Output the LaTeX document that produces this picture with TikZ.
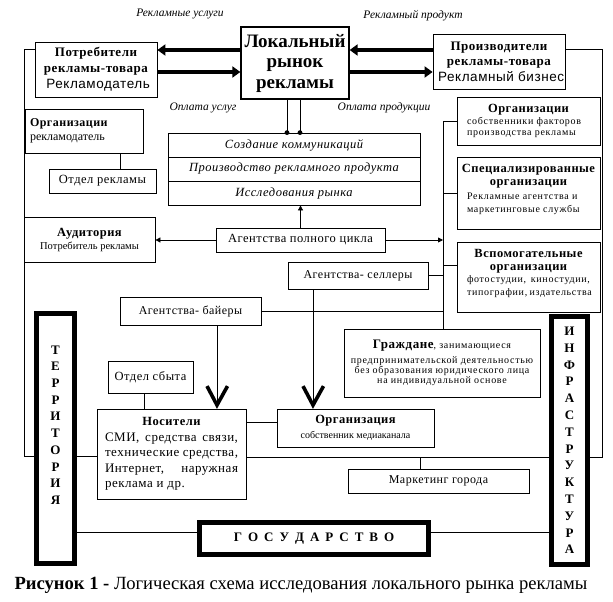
\documentclass[tikz,border=0pt]{standalone}
\usepackage{fontspec}
\setmainfont{Liberation Serif}
\setsansfont{Liberation Sans}
\newfontfamily\lsf[LetterSpace=4]{Liberation Serif}
\newfontfamily\lsw[LetterSpace=7]{Liberation Serif}
\newfontfamily\lssf[LetterSpace=4]{Liberation Sans}
\usetikzlibrary{arrows.meta,backgrounds}
\newcommand\fsz[2]{\fontsize{#1}{#2}\selectfont}
\newcommand\ggap{\hspace{6pt}}
\begin{document}
\begin{tikzpicture}[x=1pt,y=-1pt,
  box/.style={draw, fill=white, line width=0.8pt, inner sep=0pt, align=center},
  heavy/.style={draw, fill=white, line width=5pt, inner sep=0pt, align=center},
  txt/.style={inner sep=0pt, align=center},
  conn/.style={line width=0.8pt},
  fat/.style={line width=4.5pt, -{Triangle[length=8pt,width=11pt]}},
  smallarr/.style={line width=0.8pt, -{Triangle[length=5pt,width=5pt]}},
  vhead/.style={line width=3.6pt, line join=miter},
  lbl/.style={font=\itshape\fsz{11.5}{13}, inner sep=0pt}]
\useasboundingbox (0,0) rectangle (613,602);

% top
\node[box, line width=1.3pt, minimum width=108pt, minimum height=72pt, font=\bfseries\fsz{19}{20.5}] (market) at (295,63) {Локальный\\рынок\\рекламы};
\node[box, minimum width=122pt, minimum height=55pt, font=\fsz{13}{16}] (potr) at (96,69.5)
  {{\lsf\bfseries Потребители}\\{\lsf\bfseries рекламы-товара}\\{\lssf\fsz{13.5}{16} Рекламодатель}};
\node[box, minimum width=132pt, minimum height=55pt, font=\fsz{13}{15.5}] (proizv) at (499,61.5)
  {{\lsf\bfseries Производители}\\{\lsf\bfseries рекламы-товара}\\{\lssf\fsz{13.5}{15.5} Рекламный бизнес}};
\node[lbl] (lu) at (180,14) {Рекламные услуги};
\node[lbl] (lp) at (413,16) {Рекламный продукт};
\node[lbl] (ou) at (203,108) {Оплата услуг};
\node[lbl] (op) at (384,108) {Оплата продукции};

% stacked functions
\node[box, minimum width=252pt, minimum height=24pt, font=\lsf\itshape\fsz{12.5}{14}] (s1) at (294,145) {Создание коммуникаций};
\node[box, minimum width=252pt, minimum height=24pt, font=\lsf\itshape\fsz{12.5}{14}] (s2) at (294,169) {Производство рекламного продукта};
\node[box, minimum width=252pt, minimum height=24pt, font=\lsf\itshape\fsz{12.5}{14}] (s3) at (294,193) {Исследования рынка};
\node[box, minimum width=169pt, minimum height=24pt, font=\lsf\fsz{12.5}{14}] (apc) at (300.5,240) {Агентства полного цикла};

% left column
\node[box, minimum width=118pt, minimum height=44pt, text width=108pt, inner xsep=5pt, align=left, font=\fsz{12}{14}] (orgR) at (84,131)
  {{\lsf\bfseries Организации}\\рекламодатель};
\node[box, minimum width=107pt, minimum height=24pt, font=\lsf\fsz{12.5}{14}] (otdR) at (102.5,181) {Отдел рекламы};
\node[box, minimum width=131pt, minimum height=45pt, font=\fsz{10.5}{13}] (aud) at (89.5,239.5)
  {{\lsf\bfseries\fsz{12.5}{13}Аудитория}\\Потребитель рекламы};

% agencies
\node[box, minimum width=141pt, minimum height=28pt, font=\lsf\fsz{12}{14}] (bay) at (190.5,311) {Агентства- байеры};
\node[box, minimum width=140pt, minimum height=27pt, font=\lsf\fsz{12}{14}] (sel) at (358,275.5) {Агентства- селлеры};
\node[box, minimum width=85pt, minimum height=32pt, font=\lsf\fsz{12.5}{14}] (otdS) at (150.5,377) {Отдел сбыта};

% media
\node[box, minimum width=149pt, minimum height=90pt, font=\lsf\fsz{13}{15.4}] (nos) at (171.5,454)
  {{\bfseries\fsz{12.5}{15.4}Носители}\\
   \makebox[133pt][s]{СМИ, средства связи,}\\
   \makebox[133pt][s]{технические средства,}\\
   \makebox[133pt][s]{Интернет, наружная}\\
   \makebox[133pt][l]{реклама и др.}};
\node[box, minimum width=157pt, minimum height=38pt, font=\fsz{10}{15}] (orgM) at (355.5,428)
  {{\lsf\bfseries\fsz{12.5}{15}Организация}\\собственник медиаканала};
\node[box, minimum width=196pt, minimum height=68pt, font=\lsw\fsz{10}{9.8}] (grazh) at (442,363)
  {{\lsf\bfseries\fsz{13}{9.8}Граждане}, занимающиеся\\[5pt]
   предпринимательской деятельностью\\
   без образования юридического лица\\
   на индивидуальной основе};
\node[box, minimum width=181pt, minimum height=24pt, font=\lsf\fsz{12}{14}] (mark) at (438.5,481) {Маркетинг города};

% right column
\node[box, minimum width=143pt, minimum height=48pt, font=\lsw\fsz{10}{10.6}] (rb1) at (528.5,121)
  {\makebox[123pt][c]{\lsf\bfseries\fsz{12.5}{10.6}Организации}\\[1pt]
   \makebox[123pt][l]{собственники факторов}\\
   \makebox[123pt][l]{производства рекламы}};
\node[box, minimum width=143pt, minimum height=72pt] (rb2) at (528.5,193) {};
\node[txt, font=\lsw\fsz{10}{13.5}] (rb2t) at (528.5,189.5)
  {\makebox[123pt][c]{\lsf\bfseries\fsz{12.5}{13.5}Специализированные}\\
   \makebox[123pt][c]{\lsf\bfseries\fsz{12.5}{13.5}организации}\\
   \makebox[123pt][l]{Рекламные агентства и}\\
   \makebox[123pt][l]{маркетинговые службы}};
\node[box, minimum width=143pt, minimum height=70pt] (rb3) at (528.5,277) {};
\node[txt, font=\lsw\fsz{10}{12.4}] (rb3t) at (528.5,273.5)
  {\makebox[123pt][c]{\lsf\bfseries\fsz{12.5}{12.4}Вспомогательные}\\
   \makebox[123pt][c]{\lsf\bfseries\fsz{12.5}{12.4}организации}\\
   \makebox[123pt][s]{фотостудии, киностудии,}\\
   \makebox[123pt][s]{типографии, издательства}};

% frame boxes
\node[heavy, minimum width=38pt, minimum height=250pt] (terr) at (55.5,438.5) {};
\node[txt, font=\bfseries\fsz{13}{16.7}] (terrT) at (55.5,425) {Т\\Е\\Р\\Р\\И\\Т\\О\\Р\\И\\Я};
\node[heavy, minimum width=36pt, minimum height=248pt, font=\bfseries\fsz{13}{16.8}] (infra) at (569.5,440.5)
  {И\\Н\\Ф\\Р\\А\\С\\Т\\Р\\У\\К\\Т\\У\\Р\\А};
\node[heavy, minimum width=229pt, minimum height=32pt, font=\bfseries\fsz{13}{15}] (gos) at (314,538.5)
  {Г\ggap О\ggap С\ggap У\ggap Д\ggap А\ggap Р\ggap С\ggap Т\ggap В\ggap О};

\node[txt, font=\fsz{18.6}{20}] (cap) at (301,585) {\textbf{Рисунок 1 -} Логическая схема исследования локального рынка рекламы};

% helper coordinates
\coordinate (ya) at (0,50);
\coordinate (yb) at (0,72);
\coordinate (yl) at (0,49);
\coordinate (lbA) at (24,49);
\coordinate (lbB) at (24,456);
\coordinate (rbA) at (602,49);
\coordinate (rbB) at (602,457);
\coordinate (xv1) at (287,0);
\coordinate (xv2) at (300,0);
\coordinate (xbus) at (443,0);
\coordinate (xotd) at (120,0);
\coordinate (xsb) at (144,0);
\coordinate (xbay) at (217,0);
\coordinate (xsel) at (313,0);
\coordinate (y422) at (0,422);
\coordinate (y265) at (0,265);
\coordinate (ygos) at (0,532);
\coordinate (xmk) at (420,0);
\coordinate (vt1) at ([yshift=3.5pt]nos.north -| xbay);
\coordinate (vt2) at ([yshift=3.5pt]orgM.north -| xsel);

\begin{pgfonlayer}{background}
\fill[white] (0,0) rectangle (613,602);
\draw[fat] (market.west |- ya) -- (potr.east |- ya);
\draw[fat] (potr.east |- yb) -- (market.west |- yb);
\draw[fat] (proizv.west |- ya) -- (market.east |- ya);
\draw[fat] (market.east |- yb) -- (proizv.west |- yb);
\draw[conn] (market.south -| xv1) -- (s1.north -| xv1);
\draw[conn] (market.south -| xv2) -- (s1.north -| xv2);
\draw[smallarr] (apc.north) -- (apc.north |- s3.south);
\draw[smallarr] (apc.west) -- (aud.east |- apc.west);
\draw[smallarr] (apc.east) -- (apc.east -| xbus);
\draw[conn] (potr.west |- yl) -- (lbA) -- (lbB) -- (lbB -| nos.west);
\draw[conn] (orgR.south -| xotd) -- (otdR.north -| xotd);
\draw[conn] (proizv.east |- yl) -- (rbA) -- (rbB) -- (rbB -| nos.east);
\draw[conn] (rbB -| xmk) -- (mark.north -| xmk);
\draw[conn] (xbus |- rb1.west) -- (xbus |- grazh.north);
\draw[conn] (xbus |- rb1.west) -- (rb1.west);
\draw[conn] (xbus |- rb2.west) -- (rb2.west);
\draw[conn] (xbus |- y265) -- (rb3.west |- y265);
\draw[conn] (sel.east) -- (sel.east -| xbus);
\draw[conn] (bay.east) -- (bay.east -| xbus);
\draw[conn] (sel.south -| xsel) -- (vt2);
\draw[conn] (bay.south -| xbay) -- (vt1);
\draw[conn] (otdS.south -| xsb) -- (nos.north -| xsb);
\draw[conn] (nos.east |- y422) -- (orgM.west |- y422);
\draw[conn] (terr.east |- ygos) -- (gos.west |- ygos);
\draw[conn] (gos.east |- ygos) -- (infra.west |- ygos);
\end{pgfonlayer}

\draw[vhead] ([shift={(-10,-19)}]vt1) -- (vt1) -- ([shift={(10.5,-19)}]vt1);
\draw[vhead] ([shift={(-10,-19)}]vt2) -- (vt2) -- ([shift={(10.5,-19)}]vt2);
\fill (s1.north -| xv1) circle[radius=2.4pt];
\fill (s1.north -| xv2) circle[radius=2.4pt];
\end{tikzpicture}
\end{document}
